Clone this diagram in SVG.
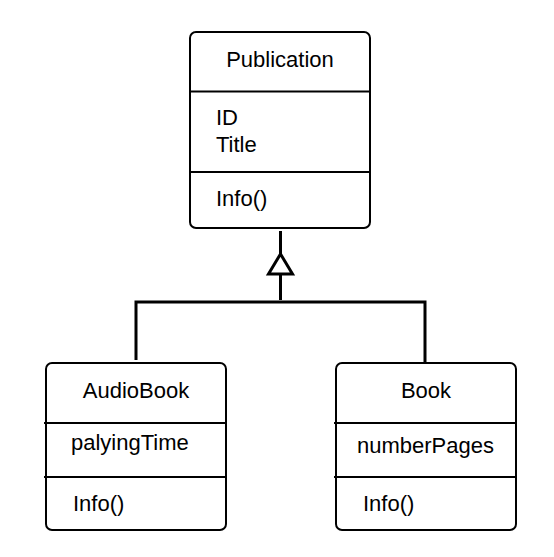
<svg xmlns="http://www.w3.org/2000/svg" width="554" height="557" viewBox="0 0 554 557">
<style>
.box{fill:#fff;stroke:#000;stroke-width:2}
.div{stroke:#000;stroke-width:2}
.t{font-family:"Liberation Sans",Arial,sans-serif;font-size:22px;fill:#000}
.c{stroke:#000;stroke-width:3;fill:none}
</style>
<rect width="554" height="557" fill="#fff"/>
<g id="publication">
<rect class="box" x="190" y="32" width="180" height="196" rx="6"/>
<line class="div" x1="189" y1="91.5" x2="371" y2="91.5"/>
<line class="div" x1="189" y1="172" x2="371" y2="172"/>
<text class="t" x="280" y="67" text-anchor="middle">Publication</text>
<text class="t" x="216" y="125">ID</text>
<text class="t" x="216" y="152">Title</text>
<text class="t" x="216" y="206">Info()</text>
</g>
<g id="audiobook">
<rect class="box" x="46" y="363" width="180" height="167" rx="6"/>
<line class="div" x1="44" y1="423" x2="227" y2="423"/>
<line class="div" x1="44" y1="477" x2="227" y2="477"/>
<text class="t" x="136" y="398" text-anchor="middle">AudioBook</text>
<text class="t" x="71" y="450">palyingTime</text>
<text class="t" x="73" y="511">Info()</text>
</g>
<g id="book">
<rect class="box" x="336" y="363" width="180" height="167" rx="6"/>
<line class="div" x1="334" y1="423" x2="517" y2="423"/>
<line class="div" x1="334" y1="477" x2="517" y2="477"/>
<text class="t" x="426" y="398" text-anchor="middle">Book</text>
<text class="t" x="357" y="453">numberPages</text>
<text class="t" x="363" y="511">Info()</text>
</g>
<g id="connectors">
<line class="c" x1="280.5" y1="231" x2="280.5" y2="254"/>
<polygon class="c" points="280.5,254 268.5,274 292.5,274"/>
<line class="c" x1="280.5" y1="274" x2="280.5" y2="300"/>
<polyline class="c" points="136,360 136,302 425,302 425,362"/>
</g>
</svg>
